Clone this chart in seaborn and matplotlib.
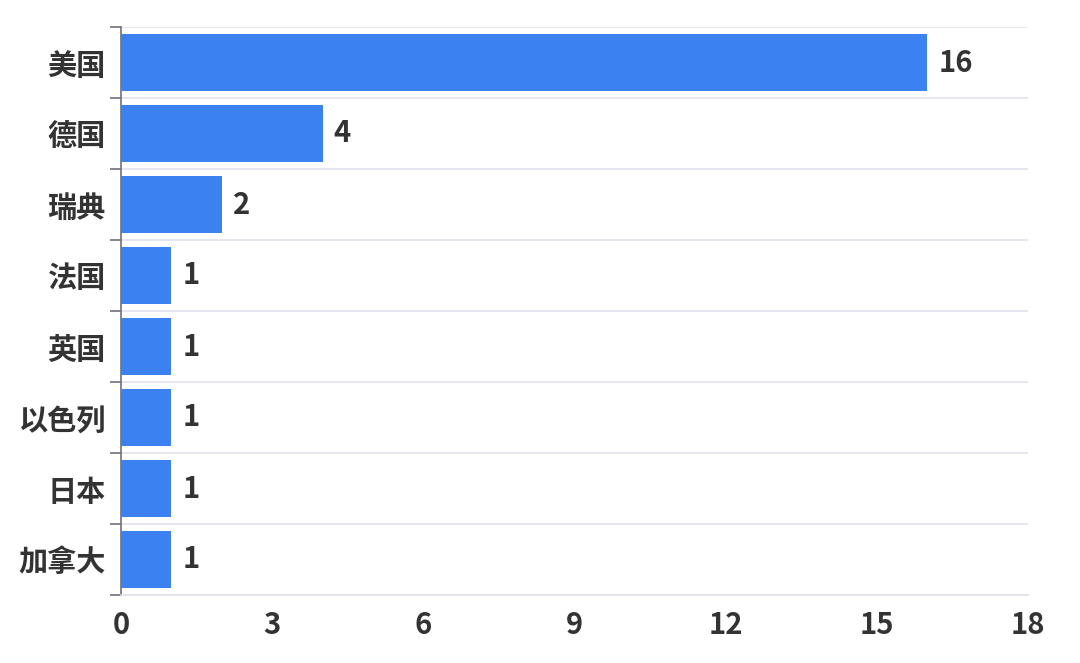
import matplotlib
matplotlib.use("Agg")
import matplotlib.pyplot as plt
import seaborn as sns
import pandas as pd
import numpy as np

countries = ["美国", "德国", "瑞典", "法国", "英国", "以色列", "日本", "加拿大"]
counts = [16, 4, 2, 1, 1, 1, 1, 1]
x_ticks = [0, 3, 6, 9, 12, 15, 18]

sns.set_theme(style="white")
plt.rcParams['font.family'] = ['Noto Sans CJK SC', 'DejaVu Sans']

df = pd.DataFrame({"country": countries, "count": counts})

fig = plt.figure(figsize=(10.8, 6.63), dpi=100)
ax = fig.add_axes([121/1080, 1-595/663, (1028-121)/1080, (595-27)/663])

sns.barplot(data=df, y="country", x="count", orient="h", color="#3b82f0",
            saturation=1, width=0.8, linewidth=0, ax=ax, zorder=3)

ax.set_xlim(0, 18)
ax.set_ylim(len(countries) - 0.5, -0.5)
ax.set_xticks(x_ticks)
ax.set_xticklabels([str(t) for t in x_ticks])
ax.set_xlabel("")
ax.set_ylabel("")

ax.set_yticks(np.arange(-0.5, len(countries), 1.0), minor=True)
ax.tick_params(axis="y", which="minor", length=8, width=1.2, color="#6e7079", left=True)
ax.tick_params(axis="y", which="major", length=0, pad=11)
ax.tick_params(axis="x", which="both", length=0, pad=11)
ax.grid(False)
ax.grid(axis="y", which="minor", color="#e0e3ec", linewidth=1.2, zorder=0)

for lab in ax.get_yticklabels() + ax.get_xticklabels():
    lab.set_fontsize(21)
    lab.set_fontweight("bold")
    lab.set_color("#333333")

for sp in ["top", "right"]:
    ax.spines[sp].set_visible(False)
ax.spines["left"].set_color("#6e7079")
ax.spines["left"].set_linewidth(1.2)
ax.spines["bottom"].set_color("#e0e3ec")
ax.spines["bottom"].set_linewidth(1.2)

for container in ax.containers:
    ax.bar_label(container, padding=8, fontsize=21, fontweight="bold", color="#333333")

fig.savefig("out.png", dpi=100)
